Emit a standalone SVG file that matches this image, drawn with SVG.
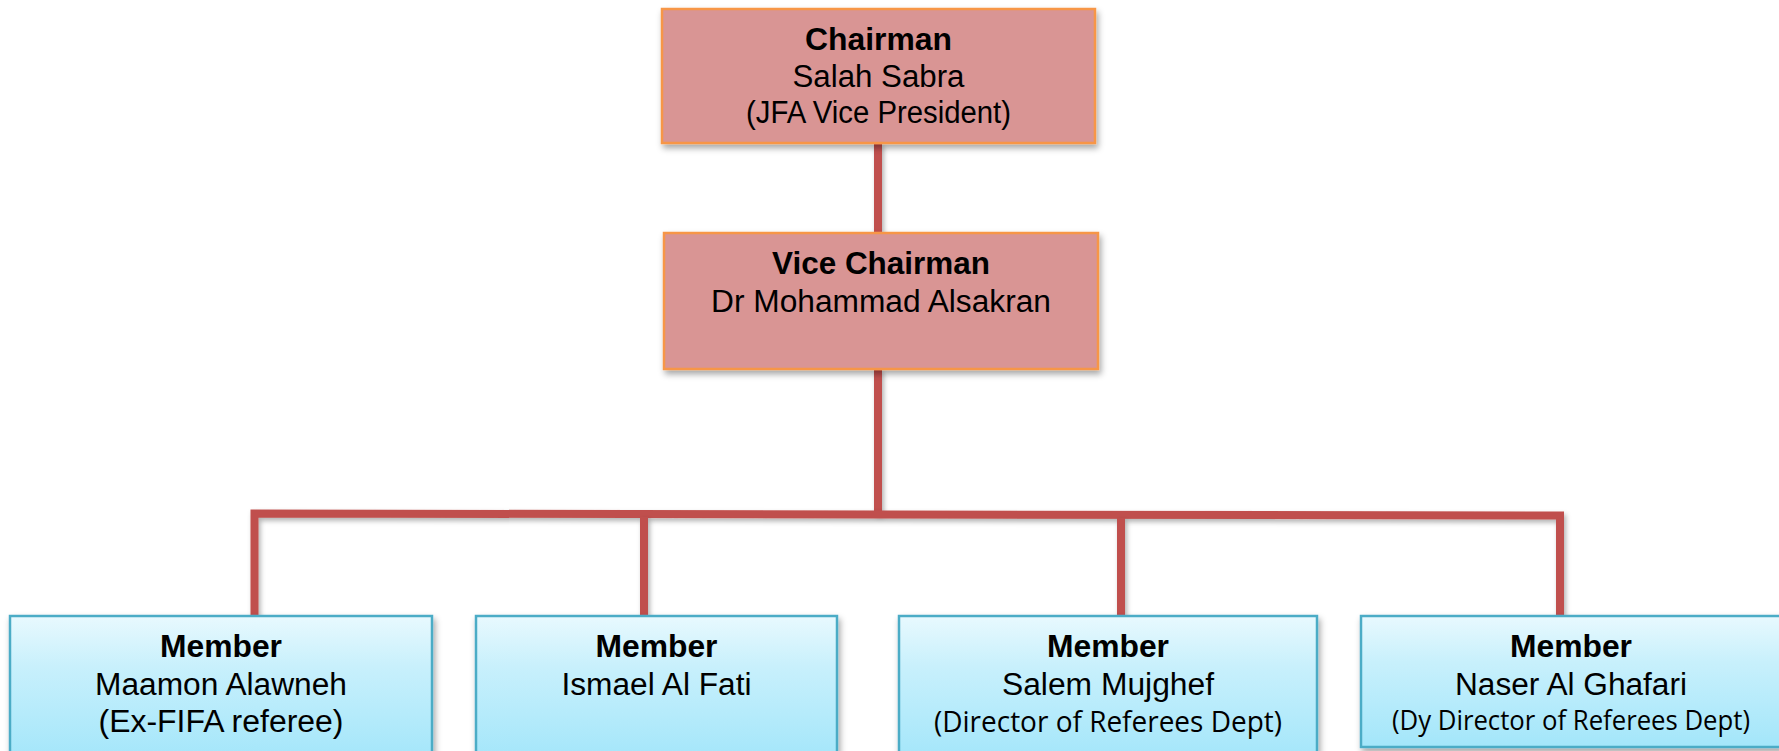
<svg xmlns="http://www.w3.org/2000/svg" width="1779" height="751" viewBox="0 0 1779 751">
<defs>
<linearGradient id="blueGrad" x1="0" y1="0" x2="0" y2="1">
<stop offset="0" stop-color="#e8f9fe"/>
<stop offset="0.35" stop-color="#c8f0fc"/>
<stop offset="1" stop-color="#a3e6fa"/>
</linearGradient>
<filter id="shadow" x="-10%" y="-10%" width="120%" height="130%">
<feDropShadow dx="2" dy="4" stdDeviation="3" flood-color="#000" flood-opacity="0.35"/>
</filter>
<filter id="lshadow" filterUnits="userSpaceOnUse" x="0" y="0" width="1779" height="751">
<feDropShadow dx="2" dy="3" stdDeviation="2.5" flood-color="#000" flood-opacity="0.3"/>
</filter>
</defs>
<style>
.red{fill:#d99594;stroke:#f79646;stroke-width:2.5;filter:url(#shadow)}
.blue{fill:url(#blueGrad);stroke:#4bacc6;stroke-width:2.5;filter:url(#shadow)}
.conn{fill:none;stroke:#c0504d;stroke-width:8;stroke-linejoin:miter;filter:url(#lshadow)}
text{font-family:"Liberation Sans",Arial,sans-serif;fill:#000;text-anchor:middle}
.b{font-weight:bold;font-size:31px}
.r{font-size:31px}
.c{font-family:"Open Sans","Noto Sans",sans-serif;font-size:29px}
</style>
<rect width="1779" height="751" fill="#ffffff"/>
<g id="connectors">
<path class="conn" d="M878 143 V233"/>
<path class="conn" d="M878 369 V514"/>
<path class="conn" d="M254.5 616 V513.5 L1560 515.5 V616"/>
<path class="conn" d="M644 517 V616"/>
<path class="conn" d="M1121 518 V616"/>
</g>
<g id="chairman">
<rect class="red" x="662" y="9" width="433" height="134"/>
<text class="b" x="878.5" y="50" textLength="147" lengthAdjust="spacingAndGlyphs">Chairman</text>
<text class="r" x="878.5" y="87" textLength="172" lengthAdjust="spacingAndGlyphs">Salah Sabra</text>
<text class="r" x="878.5" y="123" textLength="265" lengthAdjust="spacingAndGlyphs">(JFA Vice President)</text>
</g>
<g id="vice-chairman">
<rect class="red" x="664" y="233" width="434" height="136"/>
<text class="b" x="881" y="274" textLength="218" lengthAdjust="spacingAndGlyphs">Vice Chairman</text>
<text class="r" x="881" y="312" textLength="340" lengthAdjust="spacingAndGlyphs">Dr Mohammad Alsakran</text>
</g>
<g id="member1">
<rect class="blue" x="10" y="616" width="422" height="145"/>
<text class="b" x="221" y="657" textLength="122" lengthAdjust="spacingAndGlyphs">Member</text>
<text class="r" x="221" y="695" textLength="252" lengthAdjust="spacingAndGlyphs">Maamon Alawneh</text>
<text class="r" x="221" y="732" textLength="245" lengthAdjust="spacingAndGlyphs">(Ex-FIFA referee)</text>
</g>
<g id="member2">
<rect class="blue" x="476" y="616" width="361" height="145"/>
<text class="b" x="656.5" y="657" textLength="122" lengthAdjust="spacingAndGlyphs">Member</text>
<text class="r" x="656.5" y="695" textLength="190" lengthAdjust="spacingAndGlyphs">Ismael Al Fati</text>
</g>
<g id="member3">
<rect class="blue" x="899" y="616" width="418" height="145"/>
<text class="b" x="1108" y="657" textLength="122" lengthAdjust="spacingAndGlyphs">Member</text>
<text class="r" x="1108" y="695" textLength="212" lengthAdjust="spacingAndGlyphs">Salem Mujghef</text>
<text class="c" x="1108" y="732" textLength="348" lengthAdjust="spacingAndGlyphs">(Director of Referees Dept)</text>
</g>
<g id="member4">
<rect class="blue" x="1361" y="616" width="420" height="131"/>
<text class="b" x="1571" y="657" textLength="122" lengthAdjust="spacingAndGlyphs">Member</text>
<text class="r" x="1571" y="695" textLength="232" lengthAdjust="spacingAndGlyphs">Naser Al Ghafari</text>
<text class="c" x="1571" y="730" textLength="358" lengthAdjust="spacingAndGlyphs" style="font-size:27px">(Dy Director of Referees Dept)</text>
</g>
</svg>
